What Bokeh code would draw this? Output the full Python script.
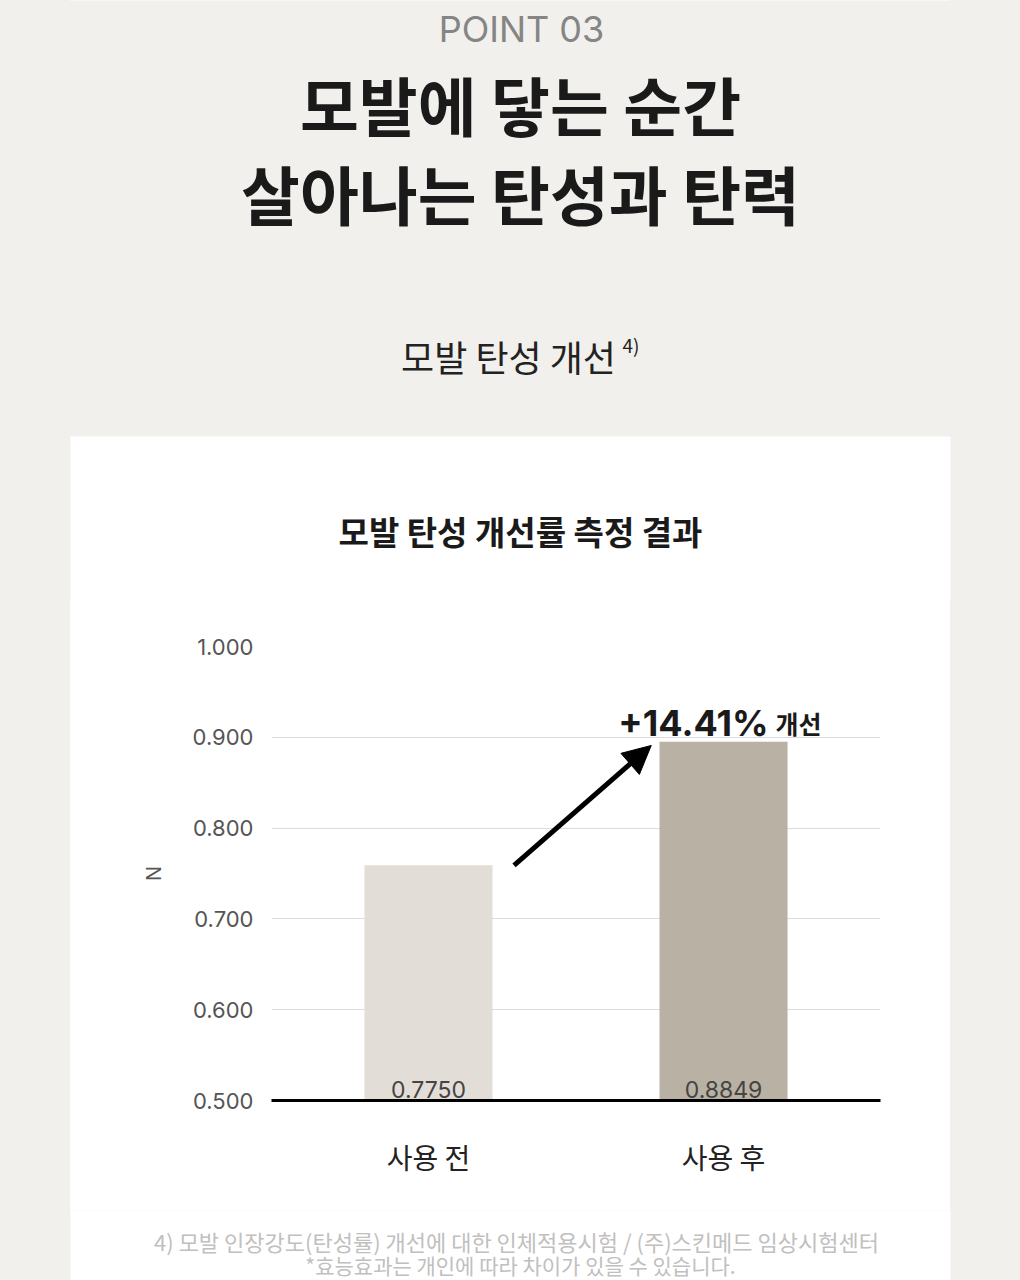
from bokeh.plotting import figure
from bokeh.layouts import column, row
from bokeh.models import (ColumnDataSource, FactorRange, Range1d, FixedTicker,
                          NumeralTickFormatter, Arrow, NormalHead, Spacer)
from bokeh.core.properties import value
from bokeh.embed import file_html
from bokeh.resources import INLINE

# ---------------- data ----------------
categories = ["사용 전", "사용 후"]
values = [0.759, 0.895]              # bar heights as drawn
value_labels = ["0.7750", "0.8849"]  # printed values
y_ticks = [0.5, 0.6, 0.7, 0.8, 0.9, 1.0]
improvement = "+14.41%"
improvement_word = "개선"
y_label = "N"
point_label = "POINT 03"
title_lines = ["모발에 닿는 순간", "살아나는 탄성과 탄력"]
subtitle = "모발 탄성 개선"
subtitle_note = "4)"
chart_title = "모발 탄성 개선률 측정 결과"
footnotes = ["4) 모발 인장강도(탄성률) 개선에 대한 인체적용시험 / (주)스킨메드 임상시험센터",
             "*효능효과는 개인에 따라 차이가 있을 수 있습니다."]

# ---------------- layout ----------------
W, H = 1020, 1280
PANEL_L, PANEL_R, PANEL_T = 70, 950, 436
FL, FR, FT, FB = 271, 880, 646, 1100     # chart frame edges (page px)
CHART_TOP, CHART_BOTTOM = 600, 1210      # chart figure vertical extent (page px)
PAGE_BG = "#f1f0ec"
KR = "Noto Sans CJK KR"
NUM = "Inter"


def deco_fig(top, bottom):
    f = figure(width=W, height=bottom - top, output_backend="svg", toolbar_location=None,
               x_range=Range1d(0, W), y_range=Range1d(bottom, top),
               x_axis_type=None, y_axis_type=None, min_border=0)
    f.grid.grid_line_color = None
    f.outline_line_color = None
    f.background_fill_color = PAGE_BG
    f.border_fill_color = PAGE_BG
    return f


# ---- top area: headline ----
top = deco_fig(0, PANEL_T)
top.text(x=[521], y=[28], text=[point_label], text_align="center", text_baseline="alphabetic",
         text_font=value(NUM), text_font_size="36px", text_color="#858585")
top.text(x=[520, 520], y=[102, 191], text=title_lines, text_align="center",
         text_baseline="middle", text_font=value(KR), text_font_style="bold",
         text_font_size="64px", text_color="#1a1a1a")
top.text(x=[508], y=[355], text=[subtitle], text_align="center", text_baseline="middle",
         text_font=value(KR), text_font_size="36px", text_color="#222222")
top.text(x=[622], y=[344], text=[subtitle_note], text_align="left", text_baseline="middle",
         text_font=value(KR), text_font_size="19px", text_color="#222222")

# ---- chart title strip ----
ct = deco_fig(PANEL_T, CHART_TOP)
ct.quad(left=[PANEL_L], right=[PANEL_R], top=[PANEL_T], bottom=[CHART_TOP + 4],
        fill_color="white", line_color=None)
ct.text(x=[520], y=[530], text=[chart_title], text_align="center", text_baseline="middle",
        text_font=value(KR), text_font_style="bold", text_font_size="33px",
        text_color="#1a1a1a")

# ---- chart ----
p = figure(width=PANEL_R - PANEL_L, height=CHART_BOTTOM - CHART_TOP,
           output_backend="svg", toolbar_location=None,
           x_range=FactorRange(*categories, range_padding=0.032),
           y_range=Range1d(y_ticks[0], y_ticks[-1]),
           min_border_left=FL - PANEL_L, min_border_right=PANEL_R - FR,
           min_border_top=FT - CHART_TOP, min_border_bottom=CHART_BOTTOM - FB)
p.border_fill_color = "white"
p.background_fill_color = "white"
p.outline_line_color = None

p.yaxis.ticker = FixedTicker(ticks=y_ticks)
p.yaxis.formatter = NumeralTickFormatter(format="0.000")
p.yaxis.axis_line_color = None
p.yaxis.major_tick_line_color = None
p.yaxis.minor_tick_line_color = None
p.yaxis.major_label_text_font = NUM
p.yaxis.major_label_text_font_size = "22px"
p.yaxis.major_label_text_color = "#555555"
p.yaxis.major_label_standoff = 12
p.yaxis.axis_label = y_label
p.yaxis.axis_label_text_font = NUM
p.yaxis.axis_label_text_font_size = "20px"
p.yaxis.axis_label_text_font_style = "normal"
p.yaxis.axis_label_text_color = "#555555"
p.yaxis.axis_label_standoff = 24

p.xaxis.axis_line_color = "black"
p.xaxis.axis_line_width = 3
p.xaxis.major_tick_line_color = None
p.xaxis.minor_tick_line_color = None
p.xaxis.major_label_text_font = KR
p.xaxis.major_label_text_font_size = "28px"
p.xaxis.major_label_text_color = "#222222"
p.xaxis.major_label_standoff = 30

p.xgrid.grid_line_color = None
p.ygrid.ticker = FixedTicker(ticks=y_ticks)
p.ygrid.grid_line_color = "#dcdcdc"
p.ygrid.grid_line_width = 1

src = ColumnDataSource(dict(cat=categories, val=values, lab=value_labels,
                            color=["#e2ded7", "#b9b1a3"]))
p.vbar(x="cat", top="val", bottom=y_ticks[0], width=0.434, color="color",
       line_color=None, source=src)
p.text(x="cat", y=y_ticks[0], text="lab", source=src, y_offset=-11,
       text_align="center", text_baseline="alphabetic",
       text_font=value(NUM), text_font_size="23px", text_color="#444444")

p.text(x=[categories[1]], y=[values[1]], text=[improvement], x_offset=45, y_offset=-19,
       text_align="right", text_baseline="alphabetic",
       text_font=value(NUM), text_font_size="36px", text_font_style="bold",
       text_color="#1a1a1a")
p.text(x=[categories[1]], y=[values[1]], text=[improvement_word], x_offset=52, y_offset=-19,
       text_align="left", text_baseline="alphabetic",
       text_font=value(KR), text_font_size="25px", text_font_style="bold",
       text_color="#1a1a1a")

p.add_layout(Arrow(end=NormalHead(size=28, fill_color="black", line_color="black"),
                   x_start=0.79, y_start=values[0], x_end=1.255, y_end=0.891,
                   line_color="black", line_width=5))

chart_row = row(Spacer(width=PANEL_L, height=CHART_BOTTOM - CHART_TOP),
                p,
                Spacer(width=W - PANEL_R, height=CHART_BOTTOM - CHART_TOP),
                spacing=0)

# ---- footnotes ----
fn = deco_fig(CHART_BOTTOM, H)
fn.quad(left=[PANEL_L], right=[PANEL_R], top=[CHART_BOTTOM - 4], bottom=[H + 4],
        fill_color="white", line_color=None)
fn.text(x=[516], y=[1240], text=[footnotes[0]], text_align="center",
        text_baseline="middle", text_font=value(KR), text_font_size="22px",
        text_color="#c0c0c0")
fn.text(x=[520], y=[1264], text=[footnotes[1]], text_align="center",
        text_baseline="middle", text_font=value(KR), text_font_size="21px",
        text_color="#c0c0c0")

panel_bg = (f"linear-gradient(to right, {PAGE_BG} {PANEL_L}px, white {PANEL_L}px, "
            f"white {PANEL_R}px, {PAGE_BG} {PANEL_R}px)")
layout = column(top, ct, chart_row, fn, spacing=0,
                styles={"background": panel_bg})

open("out.html", "w").write(file_html(layout, INLINE))
